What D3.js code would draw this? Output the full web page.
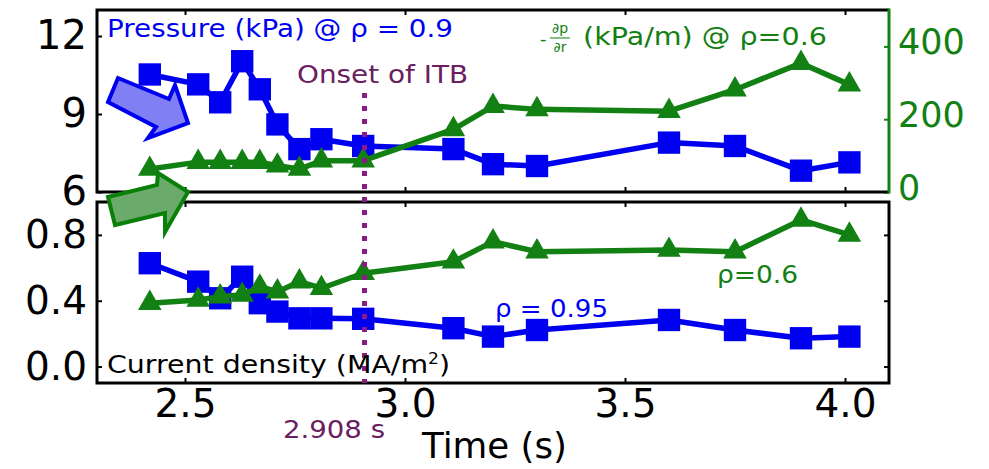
<!DOCTYPE html>
<html>
<head>
<meta charset="utf-8">
<script src="https://cdn.jsdelivr.net/npm/d3@7"></script>
<style>
  body { margin: 0; background: #fff; }
  svg { display: block; font-family: "DejaVu Sans", sans-serif; }
</style>
</head>
<body>
<svg id="chart" width="989" height="469"></svg>
<script>
// data
const times = [2.42, 2.53, 2.58, 2.63, 2.67, 2.71, 2.76, 2.81, 2.905, 3.11, 3.2, 3.3, 3.6, 3.75, 3.9, 4.01];
const pressure = [10.52, 10.14, 9.45, 11.03, 9.95, 8.6, 7.65, 8.03, 7.77, 7.65, 7.07, 7.0, 7.9, 7.77, 6.82, 7.14];
const gradP = [63, 82, 82, 82, 82, 72, 63, 86, 86, 172, 236, 227, 222, 281, 354, 295];
const jEdge = [0.628, 0.516, 0.415, 0.546, 0.385, 0.334, 0.293, 0.293, 0.29, 0.233, 0.182, 0.222, 0.283, 0.222, 0.172, 0.182];
const jMid = [0.385, 0.405, 0.425, 0.435, 0.485, 0.455, 0.516, 0.476, 0.567, 0.637, 0.759, 0.698, 0.708, 0.698, 0.891, 0.80];
const xTicks = [2.5, 3.0, 3.5, 4.0];
const pTicks = [6, 9, 12];
const gTicks = [0, 200, 400];
const jTicks = [0.0, 0.4, 0.8];
const itbTime = 2.908;

const svg = d3.select("#chart");
const blue = "#0000f0", green = "#128012", purple = "#8a1a86", plum = "#6a2060";

const left = 97, right = 889;
const top1 = 10, bot1 = 192, top2 = 202, bot2 = 383;

const x = d3.scaleLinear().domain([2.3, 4.1]).range([left, right]);
const yP = d3.scaleLinear().domain([6, 13]).range([bot1, top1]);
const yG = d3.scaleLinear().domain([0, 500]).range([bot1, top1]);
const yJ = d3.scaleLinear().domain([-0.1, 1.0]).range([bot2, top2]);

function styleAxis(g, color, size) {
    g.select(".domain").remove();
    g.selectAll(".tick line").attr("stroke", color).attr("stroke-width", 2);
    g.selectAll(".tick text").attr("fill", color).attr("font-size", size)
        .attr("font-family", "DejaVu Sans");
}

// ticks (inward) for both panels
[[top1, bot1], [top2, bot2]].forEach(([t, b], i) => {
    svg.append("g").attr("transform", `translate(0,${b})`)
        .call(d3.axisBottom(x).tickValues(xTicks).tickSize(-5).tickFormat(i === 1 ? d3.format(".1f") : ""))
        .call(g => styleAxis(g, "#000", 39))
        .call(g => g.selectAll(".tick text").attr("dy", 0).attr("y", 34));
    svg.append("g").attr("transform", `translate(0,${t})`)
        .call(d3.axisTop(x).tickValues(xTicks).tickSize(-5).tickFormat(""))
        .call(g => styleAxis(g, "#000", 39));
});

svg.append("g").attr("transform", `translate(${left},0)`)
    .call(d3.axisLeft(yP).tickValues(pTicks).tickSize(-5).tickPadding(10).tickFormat(d3.format("d")))
    .call(g => styleAxis(g, "#000", 40));
svg.append("g").attr("transform", `translate(${right},0)`)
    .call(d3.axisRight(yG).tickValues(gTicks).tickSize(-5).tickPadding(9))
    .call(g => styleAxis(g, green, 35))
    .call(g => g.selectAll(".tick text").attr("dy", "0.2em"));
svg.append("g").attr("transform", `translate(${left},0)`)
    .call(d3.axisLeft(yJ).tickValues(jTicks).tickSize(-5).tickPadding(10).tickFormat(d3.format(".1f")))
    .call(g => styleAxis(g, "#000", 39));
svg.append("g").attr("transform", `translate(${right},0)`)
    .call(d3.axisRight(yJ).tickValues(jTicks).tickSize(-5).tickFormat(""))
    .call(g => styleAxis(g, "#000", 39));

// series
function series(ys, vals, color, shape, sz) {
    const pts = times.map((t, i) => [x(t), ys(vals[i])]);
    svg.append("path").attr("d", d3.line()(pts))
        .attr("fill", "none").attr("stroke", color).attr("stroke-width", 5.5)
        .attr("stroke-linejoin", "round");
    svg.append("g").selectAll("path").data(pts).join("path")
        .attr("transform", d => `translate(${d[0]},${d[1]})`)
        .attr("d", d3.symbol().type(shape).size(sz))
        .attr("fill", color);
}
series(yP, pressure, blue, d3.symbolSquare, 500);
series(yG, gradP, green, d3.symbolTriangle, 240);
series(yJ, jEdge, blue, d3.symbolSquare, 500);
series(yJ, jMid, green, d3.symbolTriangle, 240);

// frames
svg.append("path")
    .attr("d", `M${right},${top1}H${left}V${bot1}H${right}`)
    .attr("fill", "none").attr("stroke", "#000").attr("stroke-width", 3);
svg.append("line").attr("x1", right).attr("x2", right).attr("y1", top1 - 1.5).attr("y2", bot1 + 1.5)
    .attr("stroke", green).attr("stroke-width", 3);
svg.append("rect").attr("x", left).attr("y", top2).attr("width", right - left).attr("height", bot2 - top2)
    .attr("fill", "none").attr("stroke", "#000").attr("stroke-width", 3);

// onset line
svg.append("line")
    .attr("x1", x(itbTime)).attr("x2", x(itbTime))
    .attr("y1", 93).attr("y2", bot2)
    .attr("stroke", purple).attr("stroke-width", 5).attr("stroke-dasharray", "5,8");

// labels (text is wider than tall in the source, so fit the measured widths)
function label(txt, xx, yy, size, color, width, anchor) {
    return svg.append("text").attr("x", xx).attr("y", yy).attr("fill", color)
        .attr("font-size", size).attr("text-anchor", anchor || "start")
        .attr("textLength", width).attr("lengthAdjust", "spacingAndGlyphs")
        .text(txt);
}
label("Pressure (kPa) @ ρ = 0.9", 107, 37, 24, blue, 346);
label("Onset of ITB", 297, 83, 25, plum, 171);
const frac = svg.append("g").attr("fill", green);
frac.append("text").attr("x", 540).attr("y", 45).attr("font-size", 18).text("-");
frac.append("text").attr("x", 560).attr("y", 33).attr("font-size", 14).attr("text-anchor", "middle").text("∂p");
frac.append("text").attr("x", 560).attr("y", 52).attr("font-size", 14).attr("text-anchor", "middle").text("∂r");
frac.append("line").attr("x1", 550).attr("x2", 570).attr("y1", 38).attr("y2", 38)
    .attr("stroke", green).attr("stroke-width", 1);
label("(kPa/m) @ ρ=0.6", 583, 45, 24, green, 244);

svg.append("text").attr("x", 107).attr("y", 373).attr("fill", "#000").attr("font-size", 25)
    .attr("textLength", 343).attr("lengthAdjust", "spacingAndGlyphs")
    .html('Current density (MA/m<tspan dy="-9" font-size="15">2</tspan><tspan dy="9">)</tspan>');
label("ρ = 0.95", 495, 317, 24, blue, 113);
label("ρ=0.6", 717, 283, 24, green, 81);
label("2.908 s", 283, 438, 24, plum, 102);
label("Time (s)", 422, 458, 36, "#000", 145);

// arrows
svg.append("polygon")
    .attr("points", "118,78 169,99 175,85 188,123 148,138 156,127 108,102")
    .attr("fill", "#8080f4").attr("stroke", "#0000f0").attr("stroke-width", 4).attr("stroke-linejoin", "miter");
svg.append("polygon")
    .attr("points", "108,197 157,185 158,173 188,192 165,232 165,213 115,225")
    .attr("fill", "#6aaa6a").attr("stroke", "#0a800a").attr("stroke-width", 4).attr("stroke-linejoin", "miter");
</script>
</body>
</html>
